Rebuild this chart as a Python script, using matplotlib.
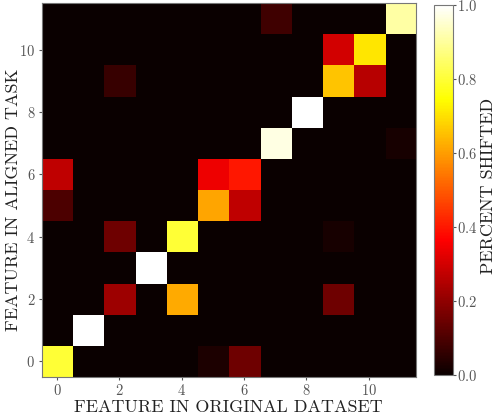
import numpy as np
import matplotlib
matplotlib.use("Agg")
import matplotlib.pyplot as plt

plt.rcParams['font.family'] = ['cmr10', 'DejaVu Serif']
plt.rcParams['axes.formatter.use_mathtext'] = True

n_features = 12
# (row = feature in aligned task, col = feature in original dataset, value)
rows = [0, 0, 0, 1, 2, 2, 2, 3, 4, 4, 4, 5, 5, 5, 6, 6, 6, 7, 7, 8, 9, 9, 9, 10, 10, 11, 11]
cols = [0, 5, 6, 1, 2, 4, 9, 3, 2, 4, 9, 0, 5, 6, 0, 5, 6, 7, 11, 8, 2, 9, 10, 9, 10, 7, 11]
vals = [0.80, 0.03, 0.15, 1.00, 0.22, 0.62, 0.15, 1.00, 0.15, 0.80, 0.02,
        0.10, 0.61, 0.27, 0.27, 0.34, 0.40, 0.97, 0.02, 1.00, 0.07, 0.66,
        0.26, 0.30, 0.71, 0.08, 0.91]

M = np.zeros((n_features, n_features))
for r, c, v in zip(rows, cols, vals):
    M[r, c] = v

W, H = 498, 417
fig = plt.figure(figsize=(W/100, H/100), dpi=100)
ax = fig.add_axes([41.5/W, 1 - 377/H, 374/W, 374/H])
cax = fig.add_axes([434/W, 1 - 375/H, 19/W, 370/H])

im = ax.imshow(M, cmap='hot', origin='lower', vmin=0, vmax=1, aspect='auto')
ax.set_xticks(np.arange(0, 12, 2))
ax.set_yticks(np.arange(0, 12, 2))
ax.tick_params(labelsize=10.5, colors='#555555', length=2, width=0.8, pad=2.5)
for s in ax.spines.values():
    s.set_color('#777777')

lab_kw = dict(fontsize=13, color='#222222', rotation_mode='anchor', ha='center', va='baseline')
fig.text(228/W, 1 - 412/H, 'FEATURE IN ORIGINAL DATASET', **lab_kw)
fig.text(18/W, 1 - 200/H, 'FEATURE IN ALIGNED TASK', rotation=90, **lab_kw)
fig.text(493/W, 1 - 186/H, 'PERCENT SHIFTED', rotation=90, **lab_kw)

cb = fig.colorbar(im, cax=cax)
cb.ax.tick_params(labelsize=10.5, colors='#555555', length=2, width=0.8, pad=1)
cb.outline.set_edgecolor('#777777')
cb.set_ticks([0.0, 0.2, 0.4, 0.6, 0.8, 1.0])

fig.savefig('out.png', dpi=100)
